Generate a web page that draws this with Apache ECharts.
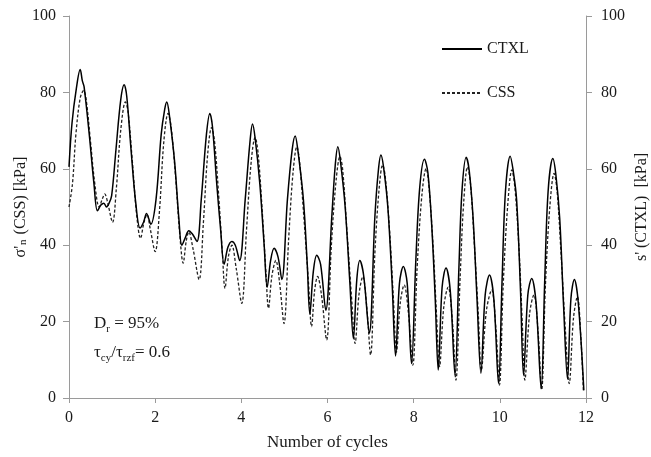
<!DOCTYPE html>
<html>
<head>
<meta charset="utf-8">
<script src="https://cdn.jsdelivr.net/npm/echarts@6/dist/echarts.min.js"></script>
<style>
  html, body { margin: 0; padding: 0; background: #fff; }
  #chart { width: 651px; height: 457px; }
</style>
</head>
<body>
<div id="chart"></div>
<script>
// Cycle positions and effective stress (kPa), triaxial test (CTXL)
const ctxlCycles = [
  0, 0.07, 0.17, 0.26, 0.31, 0.35, 0.47, 0.58, 0.66, 0.74, 0.81, 0.87, 0.93, 0.99,
  1.09, 1.20, 1.28, 1.34, 1.44, 1.55, 1.65, 1.73, 1.80, 1.90,
  2.02, 2.14, 2.22, 2.27, 2.33, 2.45, 2.55, 2.62, 2.70, 2.78, 2.86, 2.97,
  3.07, 3.19, 3.27, 3.33, 3.43, 3.52, 3.60, 3.69, 3.78, 3.86, 3.96,
  4.09, 4.20, 4.26, 4.32, 4.43, 4.53, 4.60, 4.68, 4.76, 4.85, 4.94,
  5.07, 5.18, 5.25, 5.31, 5.44, 5.53, 5.59, 5.67, 5.75, 5.84, 5.96,
  6.10, 6.18, 6.24, 6.30, 6.41, 6.52, 6.60, 6.68, 6.75, 6.84, 6.97,
  7.10, 7.18, 7.24, 7.30, 7.40, 7.50, 7.58, 7.67, 7.76, 7.85, 7.95,
  8.05, 8.14, 8.25, 8.33, 8.42, 8.50, 8.57, 8.66, 8.75, 8.85, 8.96,
  9.05, 9.12, 9.22, 9.29, 9.38, 9.47, 9.56, 9.66, 9.76, 9.86, 9.97,
  10.05, 10.13, 10.24, 10.31, 10.39, 10.48, 10.55, 10.65, 10.74, 10.84, 10.96,
  11.04, 11.12, 11.23, 11.30, 11.39, 11.48, 11.57, 11.65, 11.73, 11.82, 11.95
];
const ctxlStress = [
  60.5, 72, 81, 86, 83, 81.5, 69, 56, 49, 50.5, 51, 50, 51, 53,
  65, 78, 82, 79, 65, 51, 44.5, 46, 48.3, 45.5,
  52, 69, 75.5, 77.5, 74, 62, 47, 40, 42, 43.8, 43, 41,
  52, 69, 74.5, 71, 56, 44, 35, 39.5, 41, 40, 36,
  52, 67, 71.7, 68, 56, 40, 29, 36, 39.2, 37, 31,
  52, 65, 68.6, 65, 52, 35, 22, 33, 37.4, 35, 23,
  47.5, 61, 65.8, 62, 50, 30, 15.6, 31, 36, 32, 17,
  47.5, 59.5, 63.6, 60.5, 50, 30, 11, 30, 34.4, 30, 9,
  36, 55, 62.5, 59, 45, 26, 7.3, 29, 34, 28, 6,
  34, 54, 63, 59.5, 47, 26, 6.5, 27, 32.2, 26, 3.8,
  30, 54, 63.3, 59.5, 51.8, 28, 6, 27, 31.3, 25, 2.5,
  30, 54, 62.7, 58.5, 47, 24, 5, 26, 31, 25, 2
];

// Cycle positions and normal effective stress (kPa), simple shear test (CSS)
const cssCycles = [
  0, 0.08, 0.16, 0.26, 0.34, 0.40, 0.50, 0.60, 0.70, 0.77, 0.83, 0.90,
  1.01, 1.10, 1.20, 1.31, 1.37, 1.47, 1.57, 1.66, 1.74, 1.81, 1.89,
  2.00, 2.10, 2.20, 2.30, 2.37, 2.48, 2.57, 2.65, 2.72, 2.78, 2.88,
  3.02, 3.12, 3.22, 3.31, 3.38, 3.48, 3.56, 3.62, 3.70, 3.78, 3.88,
  4.01, 4.12, 4.23, 4.32, 4.39, 4.49, 4.57, 4.63, 4.71, 4.80, 4.89,
  4.99, 5.10, 5.20, 5.29, 5.35, 5.46, 5.56, 5.63, 5.70, 5.77, 5.86,
  5.98, 6.09, 6.20, 6.29, 6.35, 6.45, 6.56, 6.64, 6.73, 6.82, 6.91,
  7.00, 7.10, 7.20, 7.28, 7.34, 7.44, 7.53, 7.60, 7.69, 7.78, 7.88,
  7.98, 8.08, 8.19, 8.29, 8.35, 8.45, 8.53, 8.60, 8.70, 8.80, 8.90,
  8.98, 9.08, 9.16, 9.25, 9.32, 9.41, 9.50, 9.57, 9.69, 9.81, 9.91,
  9.99, 10.08, 10.18, 10.28, 10.35, 10.44, 10.52, 10.58, 10.69, 10.79, 10.89,
  10.97, 11.06, 11.16, 11.26, 11.33, 11.42, 11.52, 11.61, 11.71, 11.80, 11.88, 11.94
];
const cssStress = [
  50, 56, 69, 78.5, 80.5, 78, 67, 56, 50, 52, 53.4, 51,
  46, 55, 70, 77.5, 75, 62, 48, 41.8, 46, 48, 44,
  38.3, 49, 67, 74.5, 71, 57, 43, 35.3, 41, 43.5, 39,
  31, 46, 64, 70.8, 67, 52, 38, 28.7, 37, 40, 34,
  24.8, 44, 62, 68.2, 64, 48, 33, 23.5, 32, 36, 30,
  19.5, 42, 59, 65.8, 62, 46, 30, 18.7, 28, 31.8, 27,
  15.2, 40, 57, 63.2, 60, 44, 26, 14.3, 27, 31.8, 24,
  11.3, 38, 55, 61, 58, 44, 26, 12, 25, 29.6, 22,
  8.6, 34, 53, 60.1, 56, 40, 22, 8.2, 24, 29, 20,
  4.7, 32, 51, 60.5, 56, 40, 22, 7.3, 23, 28.3, 18,
  3.4, 30, 50, 59.7, 55, 40, 20, 4.7, 22, 27, 17,
  2.1, 30, 50, 58.8, 54, 38, 18, 3.8, 21, 26.5, 16, 1.6
];

const stressTicks = [0, 20, 40, 60, 80, 100];
const cycleTicks = [0, 2, 4, 6, 8, 10, 12];

const pairs = (xs, ys) => xs.map((x, i) => [x, ys[i]]);

const serif = 'Liberation Serif';
const axisGrey = '#9a9a9a';
const labelColor = '#1a1a1a';

const yAxisBase = {
  type: 'value',
  min: stressTicks[0],
  max: stressTicks[stressTicks.length - 1],
  interval: 20,
  nameLocation: 'middle',
  nameRotate: 90,
  nameMoveOverlap: false,
  axisLine: { show: true, lineStyle: { color: axisGrey, width: 1 } },
  axisTick: { show: true, inside: false, length: 6, lineStyle: { color: axisGrey } },
  splitLine: { show: false }
};

const legendBase = {
  orient: 'vertical', padding: 0,
  itemWidth: 40, itemHeight: 14,
  itemStyle: { opacity: 0 },
  textStyle: { fontFamily: serif, fontSize: 16, color: labelColor }
};

const chart = echarts.init(document.getElementById('chart'), null, { renderer: 'canvas' });

chart.setOption({
  animation: false,
  backgroundColor: '#fff',
  grid: { left: 69, right: 65, top: 16, bottom: 59, containLabel: false, outerBoundsMode: 'none' },
  xAxis: {
    type: 'value',
    min: cycleTicks[0],
    max: cycleTicks[cycleTicks.length - 1],
    interval: 2,
    name: 'Number of cycles',
    nameLocation: 'middle',
    nameGap: 36,
    nameTextStyle: { fontFamily: serif, fontSize: 17, color: labelColor },
    axisLine: { show: true, lineStyle: { color: axisGrey, width: 1 } },
    axisTick: { show: true, length: 5, lineStyle: { color: axisGrey } },
    axisLabel: { fontFamily: serif, fontSize: 16, color: labelColor, margin: 12 },
    splitLine: { show: false }
  },
  yAxis: [
    Object.assign({}, yAxisBase, {
      position: 'left',
      name: "{a|σ'}{s|n}{a| (CSS) [kPa]}",
      nameGap: 40,
      axisLabel: { fontFamily: serif, fontSize: 16, color: labelColor, margin: 13 },
      nameTextStyle: {
        fontFamily: serif, fontSize: 16, color: labelColor,
        rich: {
          a: { fontFamily: serif, fontSize: 16, color: labelColor, lineHeight: 20, verticalAlign: 'bottom' },
          s: { fontFamily: serif, fontSize: 11, color: labelColor, lineHeight: 20, verticalAlign: 'bottom', padding: [0, 1, 0, 1] }
        }
      }
    }),
    Object.assign({}, yAxisBase, {
      position: 'right',
      name: "s' (CTXL)  [kPa]",
      nameGap: 48,
      axisLabel: { fontFamily: serif, fontSize: 16, color: labelColor, margin: 15 },
      nameTextStyle: { fontFamily: serif, fontSize: 16, color: labelColor }
    })
  ],
  legend: [
    Object.assign({}, legendBase, { data: ['CTXL'], left: 441, top: 41 }),
    Object.assign({}, legendBase, { data: ['CSS'], left: 441, top: 85 })
  ],
  graphic: [
    {
      type: 'text', left: 94, top: 315,
      style: {
        text: 'D{s|r} = 95%',
        font: '17px "Liberation Serif"', fill: labelColor,
        rich: {
          s: { fontFamily: serif, fontSize: 11, fill: labelColor, verticalAlign: 'bottom', lineHeight: 22 }
        }
      }
    },
    {
      type: 'text', left: 94, top: 344,
      style: {
        text: 'τ{s|cy}/τ{s|rzf}= 0.6',
        font: '17px "Liberation Serif"', fill: labelColor,
        rich: {
          s: { fontFamily: serif, fontSize: 11, fill: labelColor, verticalAlign: 'bottom', lineHeight: 22 }
        }
      }
    }
  ],
  series: [
    {
      name: 'CTXL', type: 'line', yAxisIndex: 1,
      data: pairs(ctxlCycles, ctxlStress),
      smooth: 0.35, symbol: 'none', showSymbol: false,
      lineStyle: { color: '#000', width: 1.5, type: 'solid' },
      itemStyle: { color: '#000' },
      z: 3
    },
    {
      name: 'CSS', type: 'line', yAxisIndex: 0,
      data: pairs(cssCycles, cssStress),
      smooth: 0.35, symbol: 'none', showSymbol: false,
      lineStyle: { color: '#222', width: 1.3, type: [3, 2] },
      itemStyle: { color: '#222' },
      z: 2
    }
  ]
});
</script>
</body>
</html>
